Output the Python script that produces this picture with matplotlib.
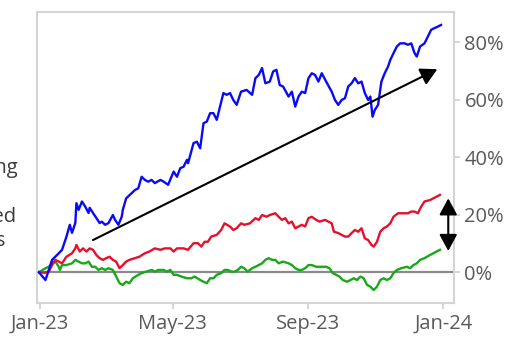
import matplotlib
matplotlib.use("Agg")
import matplotlib.pyplot as plt
import matplotlib.dates as mdates
from matplotlib.ticker import FuncFormatter
import pandas as pd

plt.rcParams["font.family"] = ["Open Sans", "DejaVu Sans"]

# Cumulative returns (%) by calendar-day offset from 1 Jan 2023
blue_days = [-1, 5, 11, 17, 20, 24, 27, 29, 32, 33,
             35, 38, 41, 44, 45, 48, 51, 54, 56, 59,
             62, 66, 68, 71, 74, 75, 78, 83, 86, 89,
             92, 95, 98, 101, 104, 109, 112, 116, 119, 121,
             124, 127, 130, 133, 134, 139, 142, 145, 148, 151,
             154, 157, 160, 166, 169, 172, 175, 178, 182, 187,
             192, 195, 198, 201, 204, 208, 211, 214, 217, 220,
             225, 228, 231, 234, 237, 240, 243, 246, 249, 252,
             255, 259, 264, 267, 270, 273, 276, 279, 282, 285,
             288, 291, 294, 297, 299, 301, 303, 306, 309, 312,
             315, 317, 320, 323, 326, 330, 333, 336, 339, 341,
             344, 348, 351, 354, 357, 360, 363]
blue_vals = [0.0, -2.7, 4.3, 6.6, 7.8, 12.4, 16.5, 13.7, 17.1, 24.0,
             21.7, 24.6, 22.8, 20.6, 22.4, 20.6, 18.9, 17.1, 17.6, 16.5,
             17.1, 19.9, 18.2, 16.5, 19.3, 21.7, 25.7, 27.5, 28.6, 29.2,
             33.2, 32.1, 31.5, 32.1, 31.0, 32.1, 31.5, 30.4, 33.2, 35.0,
             33.2, 36.2, 36.7, 39.1, 37.9, 44.9, 45.4, 43.1, 51.8, 52.4,
             55.3, 55.3, 53.0, 62.3, 61.7, 62.3, 59.9, 58.2, 62.8, 63.4,
             61.7, 67.5, 68.6, 71.0, 65.7, 66.3, 69.8, 70.4, 65.1, 64.6,
             61.1, 62.8, 57.6, 61.1, 62.8, 62.3, 67.5, 69.2, 68.6, 66.3,
             69.2, 66.3, 62.8, 59.9, 58.2, 59.9, 60.5, 64.6, 65.7, 67.5,
             65.7, 66.3, 62.3, 59.9, 61.1, 54.1, 56.4, 58.2, 66.3, 69.2,
             71.5, 73.8, 76.2, 78.5, 79.6, 79.6, 79.1, 79.6, 76.2, 75.0,
             78.5, 79.6, 81.9, 84.3, 84.9, 85.4, 86.0]

red_days = [0, 4, 8, 11, 14, 17, 20, 24, 29, 32,
            33, 36, 39, 42, 45, 48, 51, 54, 57, 60,
            63, 66, 69, 72, 75, 78, 81, 86, 90, 95,
            99, 104, 109, 113, 118, 121, 124, 130, 134, 139,
            143, 146, 149, 152, 155, 160, 164, 167, 172, 175,
            178, 182, 185, 190, 195, 198, 201, 205, 208, 213,
            216, 219, 222, 225, 228, 231, 234, 237, 240, 243,
            246, 250, 253, 258, 261, 264, 266, 270, 273, 276,
            279, 282, 285, 288, 291, 294, 297, 300, 302, 305,
            308, 311, 314, 317, 320, 324, 329, 333, 336, 339,
            342, 345, 348, 353, 356, 359, 362]
red_vals = [0.0, -0.2, 0.2, 2.5, 4.3, 3.7, 3.1, 5.4, 6.6, 8.3,
            9.5, 7.2, 8.3, 7.2, 8.3, 7.8, 6.0, 4.9, 4.3, 4.9,
            5.4, 4.3, 3.7, 1.4, 2.5, 3.7, 4.3, 4.9, 5.4, 6.6,
            7.2, 8.3, 7.8, 8.3, 8.3, 7.2, 8.3, 8.3, 7.8, 10.1,
            10.1, 8.9, 10.6, 10.6, 12.4, 13.0, 14.7, 17.0, 15.9, 14.7,
            15.3, 17.0, 16.5, 17.0, 18.8, 18.2, 19.9, 19.3, 19.9, 20.5,
            19.3, 18.2, 18.8, 17.0, 17.6, 15.3, 15.9, 16.5, 15.9, 18.8,
            19.3, 18.2, 17.6, 18.2, 17.6, 17.0, 14.1, 13.6, 13.0, 12.4,
            12.4, 13.6, 14.7, 14.1, 15.3, 11.8, 11.2, 9.5, 8.9, 10.6,
            14.1, 15.3, 15.9, 17.0, 19.3, 20.5, 20.5, 20.5, 21.1, 21.1,
            20.5, 22.8, 24.6, 25.1, 25.7, 26.3, 26.9]

green_days = [-1, 5, 8, 11, 14, 17, 18, 20, 24, 29,
              32, 35, 38, 41, 44, 47, 50, 53, 56, 59,
              62, 66, 69, 72, 75, 78, 81, 84, 89, 92,
              96, 101, 104, 107, 112, 115, 118, 121, 124, 128,
              133, 137, 140, 145, 148, 151, 154, 157, 160, 164,
              167, 170, 173, 176, 179, 182, 185, 188, 192, 195,
              198, 201, 204, 207, 210, 213, 216, 220, 225, 228,
              231, 234, 237, 240, 243, 246, 250, 255, 259, 262,
              265, 268, 271, 274, 278, 281, 284, 287, 290, 293,
              296, 299, 302, 305, 308, 311, 314, 317, 320, 323,
              327, 332, 335, 338, 341, 344, 348, 353, 356, 359,
              362]
green_vals = [0.0, 1.4, 1.9, 3.1, 3.7, 1.9, 0.8, 2.5, 2.5, 3.1,
              4.3, 3.7, 3.1, 3.1, 3.7, 1.9, 1.9, 0.8, 1.4, 0.8,
              1.4, 0.8, -1.5, -3.8, -4.4, -3.3, -3.8, -2.1, -0.9, -0.3,
              0.2, 0.8, 0.2, 0.8, 0.8, 0.2, 0.8, -0.9, -0.9, -1.5,
              -2.1, -2.1, -1.5, -2.7, -3.3, -3.8, -2.1, -2.1, -0.9, -0.3,
              0.8, 0.8, 0.2, 0.2, 0.8, 1.9, 1.4, 0.2, 1.4, 1.9,
              2.5, 3.1, 4.3, 4.9, 4.3, 4.3, 3.1, 3.7, 3.1, 2.5,
              1.4, 0.8, 0.8, 1.4, 2.5, 2.5, 1.9, 1.9, 1.9, 1.4,
              -0.3, -0.9, -1.5, -2.7, -3.3, -2.7, -2.1, -2.7, -1.5, -2.1,
              -4.4, -5.0, -6.2, -5.0, -2.7, -2.1, -2.7, -2.1, -0.3, 0.8,
              1.4, 1.9, 1.4, 2.5, 3.1, 4.3, 4.9, 6.0, 6.6, 7.2,
              7.8]

# Annotation arrows: (day offset, %)
trend_start = (48.0, 11.2)
trend_end = (359.6, 70.6)
gap_x = 369.5
gap_top, gap_bottom = 25.7, 7.4

y_ticks = [0, 20, 40, 60, 80]
side_labels = ["Leading", "Weighted", "Stocks"]

START = pd.Timestamp("2023-01-01")


def to_date(offset):
    return START + pd.to_timedelta(offset, unit="D")


def to_dates(offsets):
    return START + pd.to_timedelta(offsets, unit="D")


fig = plt.figure(figsize=(5.08, 3.39), dpi=100)
ax = fig.add_axes([37.3 / 508, 1 - 303.3 / 339, (454 - 37.3) / 508, (303.3 - 11.7) / 339])

ax.axhline(0, color="#8a8a8a", lw=1.6, zorder=1)
ax.plot(to_dates(green_days), green_vals, color="#18a818", lw=1.7, zorder=2)
ax.plot(to_dates(red_days), red_vals, color="#e5102c", lw=1.7, zorder=3)
ax.plot(to_dates(blue_days), blue_vals, color="#0a0af5", lw=1.7, zorder=4)

head = "head_length=0.5,head_width=0.27"
ax.annotate("", xy=(to_date(trend_end[0]), trend_end[1]),
            xytext=(to_date(trend_start[0]), trend_start[1]),
            arrowprops=dict(arrowstyle="-|>," + head, mutation_scale=20,
                            color="black", lw=1.5, shrinkA=0, shrinkB=0),
            zorder=5)
ax.annotate("", xy=(to_date(gap_x), gap_top),
            xytext=(to_date(gap_x), gap_bottom),
            arrowprops=dict(arrowstyle="<|-|>," + head, mutation_scale=20,
                            color="black", lw=1.5, shrinkA=0, shrinkB=0),
            zorder=5)

ax.set_xlim(to_date(-2.4), to_date(374.7))
ax.set_ylim(-10.8, 90.6)

ax.yaxis.tick_right()
ax.set_yticks(y_ticks)
ax.yaxis.set_major_formatter(FuncFormatter(lambda v, _: f"{v:.0f}%"))
ax.xaxis.set_major_locator(mdates.MonthLocator(bymonth=[1, 5, 9]))
ax.xaxis.set_major_formatter(mdates.DateFormatter("%b-%y"))

ax.tick_params(axis="both", colors="#cfcfcf", labelcolor="#595959",
               labelsize=14.5, length=4.5, width=1.2)
ax.tick_params(axis="y", pad=3)
ax.tick_params(axis="x", pad=3)

for sp in ax.spines.values():
    sp.set_color("#d4d4d4")
    sp.set_linewidth(1.5)

# Series labels sitting to the left of the plot area
label_pos = [(17.3, 173), (16.7, 221.7), (6.7, 246)]
for text, (px, py) in zip(side_labels, label_pos):
    fig.text(px / 508, 1 - py / 339, text, ha="right", va="baseline",
             fontsize=14.5, color="#3a3a3a")

fig.savefig("out.png", dpi=100)
